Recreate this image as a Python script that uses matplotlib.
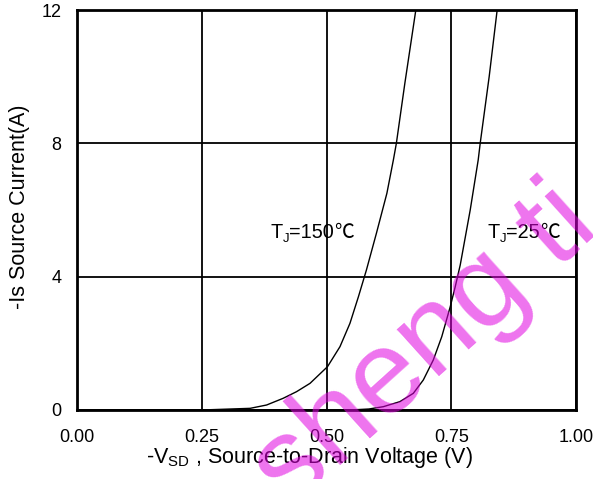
import matplotlib
matplotlib.use("Agg")
import matplotlib.pyplot as plt
from matplotlib.transforms import offset_copy

plt.rcParams['font.family'] = ['Liberation Sans', 'DejaVu Sans']

# Body-diode forward characteristics: -Is vs -Vsd
v_150 = [0.0, 0.25, 0.347, 0.38, 0.413, 0.44, 0.467, 0.502, 0.527, 0.547,
         0.564, 0.580, 0.600, 0.621, 0.634, 0.640, 0.657, 0.667, 0.679]
i_150 = [0.0, 0.0, 0.05, 0.15, 0.35, 0.55, 0.8, 1.3, 1.9, 2.6,
         3.4, 4.2, 5.3, 6.5, 7.5, 8.0, 9.8, 10.8, 12.0]

v_25 = [0.0, 0.45, 0.547, 0.585, 0.614, 0.647, 0.674, 0.694, 0.714, 0.731,
        0.748, 0.758, 0.768, 0.788, 0.804, 0.808, 0.826, 0.838, 0.842]
i_25 = [0.0, 0.0, 0.0, 0.03, 0.1, 0.25, 0.5, 0.9, 1.5, 2.2,
        3.1, 3.7, 4.35, 6.0, 7.5, 8.0, 10.0, 11.5, 12.0]

x_ticks = [0.0, 0.25, 0.5, 0.75, 1.0]
x_ticklabels = ["0.00", "0.25", "0.50", "0.75", "1.00"]
y_ticks = [0, 4, 8, 12]
y_ticklabels = ["0", "4", "8", "12"]

W, H = 593, 479
fig = plt.figure(figsize=(W / 100, H / 100), dpi=100)
ax = fig.add_axes([77 / W, 1 - 410 / H, (576 - 77) / W, (410 - 10) / H])

ax.set_xlim(0, 1)
ax.set_ylim(0, 12)
ax.set_xticks(x_ticks)
ax.set_xticklabels(x_ticklabels)
ax.set_yticks(y_ticks)
ax.set_yticklabels(y_ticklabels)
ax.tick_params(length=0, labelsize=13, colors='black')
ax.tick_params(axis='x', pad=14)
ax.tick_params(axis='y', pad=11)
ax.grid(True, color='black', linewidth=1.3)
ax.set_axisbelow(True)
for s in ax.spines.values():
    s.set_linewidth(2.0)
    s.set_color('black')

ax.plot(v_150, i_150, color='black', linewidth=1.0)
ax.plot(v_25, i_25, color='black', linewidth=1.0)

renderer = fig.canvas.get_renderer()


def compose(x, y, parts):
    """Lay out text pieces left to right starting at data point (x, y)."""
    dx = 0.0
    for txt, size, dy, fam in parts:
        tr = offset_copy(ax.transData, fig=fig, x=dx, y=dy, units='dots')
        t = ax.text(x, y, txt, transform=tr, fontsize=size, family=fam,
                    ha='left', va='baseline', color='black')
        dx += t.get_window_extent(renderer).width


sans = ['Liberation Sans', 'DejaVu Sans']
cjk = ['Noto Sans CJK SC', 'DejaVu Sans']
compose(0.387, 5.16, [("T", 14.3, 0, sans), ("J", 9.5, -4, sans),
                      ("=150", 14.3, 0, sans), ("℃", 14.3, 0, cjk)])
compose(0.822, 5.16, [("T", 14.3, 0, sans), ("J", 9.5, -4, sans),
                      ("=25", 14.3, 0, sans), ("℃", 14.3, 0, cjk)])

fig.text(310 / W, 1 - 458 / H, r"-V$_\mathregular{SD}$ , Source-to-Drain Voltage (V)",
         fontsize=15.5, ha='center', va='center')
fig.text(20 / W, 1 - 207 / H, "-Is Source Current(A)", fontsize=15.5,
         ha='center', va='center', rotation=90)

fig.text(290 / W, 1 - 510 / H, "sheng ti", fontsize=86, color='#e000e0',
         alpha=0.55, rotation=42, rotation_mode='anchor',
         ha='left', va='baseline')

fig.savefig("out.png", dpi=100)
